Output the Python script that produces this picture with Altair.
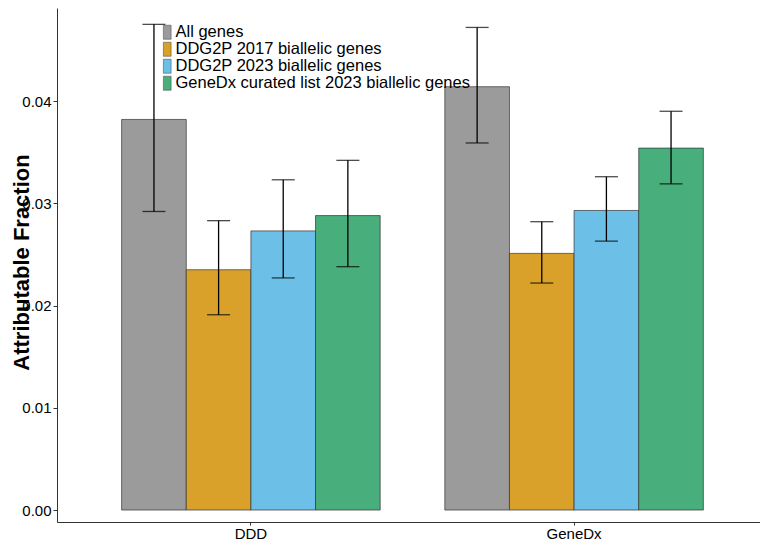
import altair as alt
import pandas as pd

cohorts = ["DDD", "DDD", "DDD", "DDD", "GeneDx", "GeneDx", "GeneDx", "GeneDx"]
gene_sets = [
    "All genes",
    "DDG2P 2017 biallelic genes",
    "DDG2P 2023 biallelic genes",
    "GeneDx curated list 2023 biallelic genes",
]
series = gene_sets * 2
af = [0.0382, 0.0235, 0.0273, 0.0288, 0.0414, 0.0251, 0.0293, 0.0354]
lo = [0.0292, 0.0191, 0.0227, 0.0238, 0.0359, 0.0222, 0.0263, 0.0319]
hi = [0.0475, 0.0283, 0.0323, 0.0342, 0.0472, 0.0282, 0.0326, 0.0390]
colors = ["#9B9B9B", "#D9A12A", "#6CC0E8", "#48AE7B"]
y_ticks = [0.0, 0.01, 0.02, 0.03, 0.04]

df = pd.DataFrame({"cohort": cohorts, "set": series, "af": af, "lo": lo, "hi": hi})

FONT = "Liberation Sans"

x = alt.X("cohort:N", title=None,
          scale=alt.Scale(paddingInner=0.2, paddingOuter=0.2, range=[0, 711]),
          axis=alt.Axis(labelAngle=0, labelFontSize=15, labelColor="#000",
                        tickSize=3, tickColor="#333", domainColor="#333",
                        labelPadding=1, labelFont=FONT))
xo = alt.XOffset("set:N", sort=gene_sets, scale=alt.Scale(paddingInner=0, paddingOuter=0))
yscale = alt.Scale(domain=[-0.00117, 0.04910], nice=False, zero=False)

base = alt.Chart(df)

bars = base.mark_bar(stroke="#333", strokeWidth=0.7).encode(
    x=x,
    xOffset=xo,
    y=alt.Y("af:Q", scale=yscale, title="Attributable Fraction",
            axis=alt.Axis(values=y_ticks, format=".2f", labelFontSize=15,
                          labelColor="#000", labelFont=FONT, tickSize=4,
                          tickColor="#333", domainColor="#333", labelPadding=2,
                          grid=False, titleFontSize=22, titleFont=FONT,
                          titleFontWeight="bold", titleColor="#000",
                          titleAngle=270, titleX=-36, titleY=254,
                          titleAlign="center", titleBaseline="middle")),
    y2=alt.Y2(datum=0),
    color=alt.Color("set:N", sort=gene_sets,
                    scale=alt.Scale(domain=gene_sets, range=colors),
                    legend=alt.Legend(title=None, orient="none", legendX=102,
                                      legendY=16,
                                      symbolType="M-0.55,-1H0.55V1H-0.55Z",
                                      symbolSize=196, symbolStrokeColor="#555",
                                      symbolStrokeWidth=0.6, labelFontSize=16.5,
                                      labelFont=FONT, labelColor="#000",
                                      labelLimit=0,
                                      rowPadding=-8,
                                      labelOffset=0, symbolOpacity=1)),
)

rules = base.mark_rule(color="#000", strokeWidth=1.3).encode(
    x=x, xOffset=xo,
    y=alt.Y("lo:Q", scale=yscale), y2="hi:Q",
)
cap_lo = base.mark_tick(color="#000", thickness=1.3, size=23, orient="horizontal").encode(
    x=x, xOffset=xo, y=alt.Y("lo:Q", scale=yscale),
)
cap_hi = base.mark_tick(color="#000", thickness=1.3, size=23, orient="horizontal").encode(
    x=x, xOffset=xo, y=alt.Y("hi:Q", scale=yscale),
)

chart = alt.layer(bars, rules, cap_lo, cap_hi).properties(
    width=703, height=514,
    autosize=alt.AutoSizeParams(type="none"),
    padding={"left": 49, "top": 0, "right": 0, "bottom": 19},
).configure_view(stroke=None).configure_axis(grid=False)

chart.save("out.html", embed_options={"renderer": "svg", "actions": False})
